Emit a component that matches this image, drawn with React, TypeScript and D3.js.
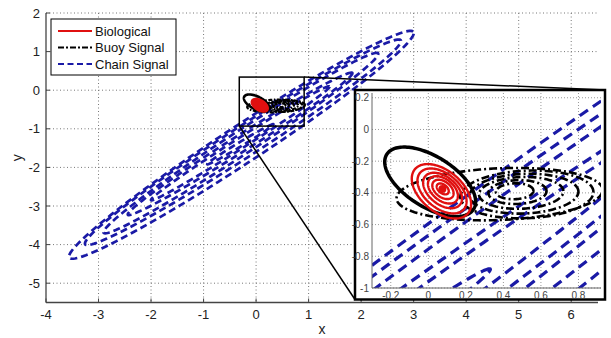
import React from "react";
import * as d3 from "d3";

// Chain signal contours (blue dashed): lower-left tip, upper-right tip, half width
const chainLoX = [-3.55, -3.25, -2.9, -2.44, -2.0, -0.93];
const chainLoY = [-4.35, -4.0, -3.7, -3.23, -2.85, -1.92];
const chainHiX = [2.99, 2.75, 2.32, 1.83, 1.4, 0.33];
const chainHiY = [1.52, 1.3, 0.96, 0.45, 0.1, -0.88];
const chainHalfW = [0.43, 0.35, 0.27, 0.19, 0.12, 0.05];

// Buoy signal contours (black dash-dot)
const buoyCx = [0.38, 0.525, 0.51, 0.495, 0.475, 0.46];
const buoyCy = [-0.408, -0.41, -0.405, -0.4, -0.395, -0.39];
const buoyRx = [0.55, 0.355, 0.29, 0.225, 0.155, 0.1];
const buoyRy = [0.163, 0.15, 0.125, 0.1, 0.075, 0.05];

// Biological contours (red solid), tilted
const bioCx = [0.07, 0.073, 0.076, 0.078, 0.078, 0.077];
const bioCy = [-0.39, -0.388, -0.385, -0.381, -0.378, -0.375];
const bioA = [0.2, 0.165, 0.13, 0.1, 0.07, 0.04];
const bioB = [0.12, 0.1, 0.08, 0.062, 0.045, 0.025];
const bioAngle = -50;
const bioPeak = [0.075, -0.375];

// black solid contour
const outerCx = 0.01;
const outerCy = -0.33;
const outerA = 0.29;
const outerB = 0.15;
const outerAngle = -40;

const xTicks = [-4, -3, -2, -1, 0, 1, 2, 3, 4, 5, 6];
const yTicks = [-5, -4, -3, -2, -1, 0, 1, 2];
const insetXTicks = [-0.2, 0, 0.2, 0.4, 0.6, 0.8];
const insetYTicks = [-1, -0.8, -0.6, -0.4, -0.2, 0, 0.2];
const zoomBox = { x0: -0.32, x1: 0.915, y0: -0.93, y1: 0.34 };

const legendItems = ["Biological", "Buoy Signal", "Chain Signal"];

const FONT = "'Liberation Sans', Arial, sans-serif";
const BLUE = "#1a1aa6";
const RED = "#e01010";

type Ell = { cx: number; cy: number; a: number; b: number; th: number };

function ellipsePath(e: Ell, sx: d3.ScaleLinear<number, number>, sy: d3.ScaleLinear<number, number>) {
  const n = 140;
  const pts: [number, number][] = d3.range(n).map((i) => {
    const p = (i / n) * Math.PI * 2;
    const c = Math.cos(e.th), s = Math.sin(e.th);
    const x = e.cx + e.a * Math.cos(p) * c - e.b * Math.sin(p) * s;
    const y = e.cy + e.a * Math.cos(p) * s + e.b * Math.sin(p) * c;
    return [sx(x), sy(y)];
  });
  return d3.line().curve(d3.curveLinearClosed)(pts) || "";
}

const chainEll: Ell[] = chainLoX.map((_, i) => {
  const dx = chainHiX[i] - chainLoX[i], dy = chainHiY[i] - chainLoY[i];
  return {
    cx: (chainHiX[i] + chainLoX[i]) / 2,
    cy: (chainHiY[i] + chainLoY[i]) / 2,
    a: Math.hypot(dx, dy) / 2,
    b: chainHalfW[i],
    th: Math.atan2(dy, dx),
  };
});
const buoyEll: Ell[] = buoyCx.map((cx, i) => ({ cx, cy: buoyCy[i], a: buoyRx[i], b: buoyRy[i], th: (3 * Math.PI) / 180 }));
const bioEll: Ell[] = bioCx.map((cx, i) => ({ cx, cy: bioCy[i], a: bioA[i], b: bioB[i], th: (bioAngle * Math.PI) / 180 }));
const outerEll: Ell = { cx: outerCx, cy: outerCy, a: outerA, b: outerB, th: (outerAngle * Math.PI) / 180 };

function Contours({ sx, sy, big }: { sx: any; sy: any; big: boolean }) {
  return (
    <g>
      {chainEll.map((e, i) => (
        <path key={"c" + i} d={ellipsePath(e, sx, sy)} fill="none" stroke={BLUE}
          strokeWidth={big ? 3.2 : 2.7} strokeDasharray={big ? "10,6" : "7,4"} />
      ))}
      {buoyEll.map((e, i) => (
        <path key={"b" + i} d={ellipsePath(e, sx, sy)} fill="none" stroke="#000"
          strokeWidth={big ? 2.6 : 2.2} strokeDasharray={big ? "8,3,2,3" : "4,1.5,1.5,1.5"} />
      ))}
      <path d={ellipsePath(outerEll, sx, sy)} fill="none" stroke="#000" strokeWidth={big ? 3.5 : 2.6} />
      {bioEll.map((e, i) => (
        <path key={"r" + i} d={ellipsePath(e, sx, sy)} fill={big ? "none" : i === 0 ? RED : "none"}
          stroke={RED} strokeWidth={big ? 2.4 : 1.8} />
      ))}
      <circle cx={sx(bioPeak[0])} cy={sy(bioPeak[1])} r={big ? 4 : 2} fill={RED} />
    </g>
  );
}

export default function App() {
  const W = 611, H = 338;
  const m = { left: 46, right: 598, top: 13, bottom: 302.5 };
  const x = d3.scaleLinear().domain([-4, 6.51]).range([m.left, m.right]);
  const y = d3.scaleLinear().domain([-5.5, 2]).range([m.bottom, m.top]);

  const ins = { left: 372, right: 601, top: 93, bottom: 288 };
  const frame = { left: 355, right: 605, top: 90, bottom: 299.5 };
  const ix = d3.scaleLinear().domain([-0.3, 0.92]).range([ins.left, ins.right]);
  const iy = d3.scaleLinear().domain([-1, 0.23]).range([ins.bottom, ins.top]);

  const bx0 = x(zoomBox.x0), bx1 = x(zoomBox.x1), by0 = y(zoomBox.y1), by1 = y(zoomBox.y0);

  return (
    <svg width={W} height={H} style={{ position: "absolute", left: 0, top: 0, background: "#fff" }} fontFamily={FONT}>
      <defs>
        <clipPath id="mainClip">
          <rect x={m.left} y={m.top} width={m.right - m.left} height={m.bottom - m.top} />
        </clipPath>
        <clipPath id="insClip">
          <rect x={ins.left} y={ins.top} width={ins.right - ins.left} height={ins.bottom - ins.top} />
        </clipPath>
      </defs>
      <rect width={W} height={H} fill="#fff" />

      {/* main grid */}
      {xTicks.filter((t) => t > -4).map((t) => (
        <line key={"gx" + t} x1={x(t)} x2={x(t)} y1={m.top} y2={m.bottom} stroke="#777" strokeDasharray="1,2.5" />
      ))}
      {yTicks.map((t) => (
        <line key={"gy" + t} x1={m.left} x2={m.right} y1={y(t)} y2={y(t)} stroke="#777" strokeDasharray="1,2.5" />
      ))}

      <g clipPath="url(#mainClip)">
        <Contours sx={x} sy={y} big={false} />
      </g>

      {/* main axes */}
      <line x1={m.left} x2={m.left} y1={m.top} y2={m.bottom} stroke="#444" strokeWidth={1.3} />
      <line x1={m.left} x2={m.right} y1={m.bottom} y2={m.bottom} stroke="#444" strokeWidth={1.3} />
      {xTicks.map((t) => (
        <g key={"tx" + t}>
          <line x1={x(t)} x2={x(t)} y1={m.bottom} y2={m.bottom - 4} stroke="#444" />
          <text x={x(t)} y={319} textAnchor="middle" fontSize={13} fill="#222">{t}</text>
        </g>
      ))}
      {yTicks.map((t) => (
        <g key={"ty" + t}>
          <line x1={m.left} x2={m.left + 4} y1={y(t)} y2={y(t)} stroke="#444" />
          <text x={40} y={y(t) + 4.5} textAnchor="end" fontSize={13} fill="#222">{t}</text>
        </g>
      ))}
      <text x={322} y={334} textAnchor="middle" fontSize={14} fill="#222">x</text>
      <text transform={`translate(22,${(m.top + m.bottom) / 2}) rotate(-90)`} textAnchor="middle" fontSize={14} fill="#222">y</text>

      {/* legend */}
      <rect x={51} y={19} width={125} height={56} fill="#fff" stroke="#000" strokeWidth={1} />
      {legendItems.map((s, i) => {
        const ly = 31 + i * 16.5;
        return (
          <g key={s}>
            <line x1={58} x2={92} y1={ly} y2={ly}
              stroke={i === 0 ? RED : i === 1 ? "#000" : BLUE}
              strokeWidth={i === 0 ? 1.8 : 2}
              strokeDasharray={i === 0 ? "none" : i === 1 ? "6,2,2,2" : "6,3.5"} />
            <text x={95} y={ly + 4.5} fontSize={13} fill="#111">{s}</text>
          </g>
        );
      })}

      {/* zoom box + connectors */}
      <rect x={bx0} y={by0} width={bx1 - bx0} height={by1 - by0} fill="none" stroke="#000" strokeWidth={1.5} />
      <line x1={bx1} y1={by0} x2={frame.right} y2={frame.top} stroke="#000" strokeWidth={1.5} />
      <line x1={bx0} y1={by1} x2={frame.left} y2={frame.bottom} stroke="#000" strokeWidth={1.5} />

      {/* inset */}
      <rect x={frame.left} y={frame.top} width={frame.right - frame.left} height={frame.bottom - frame.top}
        fill="#fff" stroke="#000" strokeWidth={2.5} />
      {insetXTicks.map((t) => (
        <line key={"igx" + t} x1={ix(t)} x2={ix(t)} y1={ins.top} y2={ins.bottom} stroke="#999" strokeDasharray="1,2" />
      ))}
      {insetYTicks.map((t) => (
        <line key={"igy" + t} x1={ins.left} x2={ins.right} y1={iy(t)} y2={iy(t)} stroke="#999" strokeDasharray="1,2" />
      ))}
      <g clipPath="url(#insClip)">
        <Contours sx={ix} sy={iy} big={true} />
      </g>
      <line x1={ins.left} x2={ins.left} y1={ins.top} y2={ins.bottom} stroke="#666" />
      <line x1={ins.left} x2={ins.right} y1={ins.bottom} y2={ins.bottom} stroke="#666" />
      {insetXTicks.map((t) => (
        <text key={"itx" + t} x={ix(t)} y={298.5} textAnchor="middle" fontSize={10} fill="#444">{t}</text>
      ))}
      {insetYTicks.map((t) => (
        <text key={"ity" + t} x={369} y={iy(t) + 3.5} textAnchor="end" fontSize={10} fill="#444">{t}</text>
      ))}
    </svg>
  );
}
